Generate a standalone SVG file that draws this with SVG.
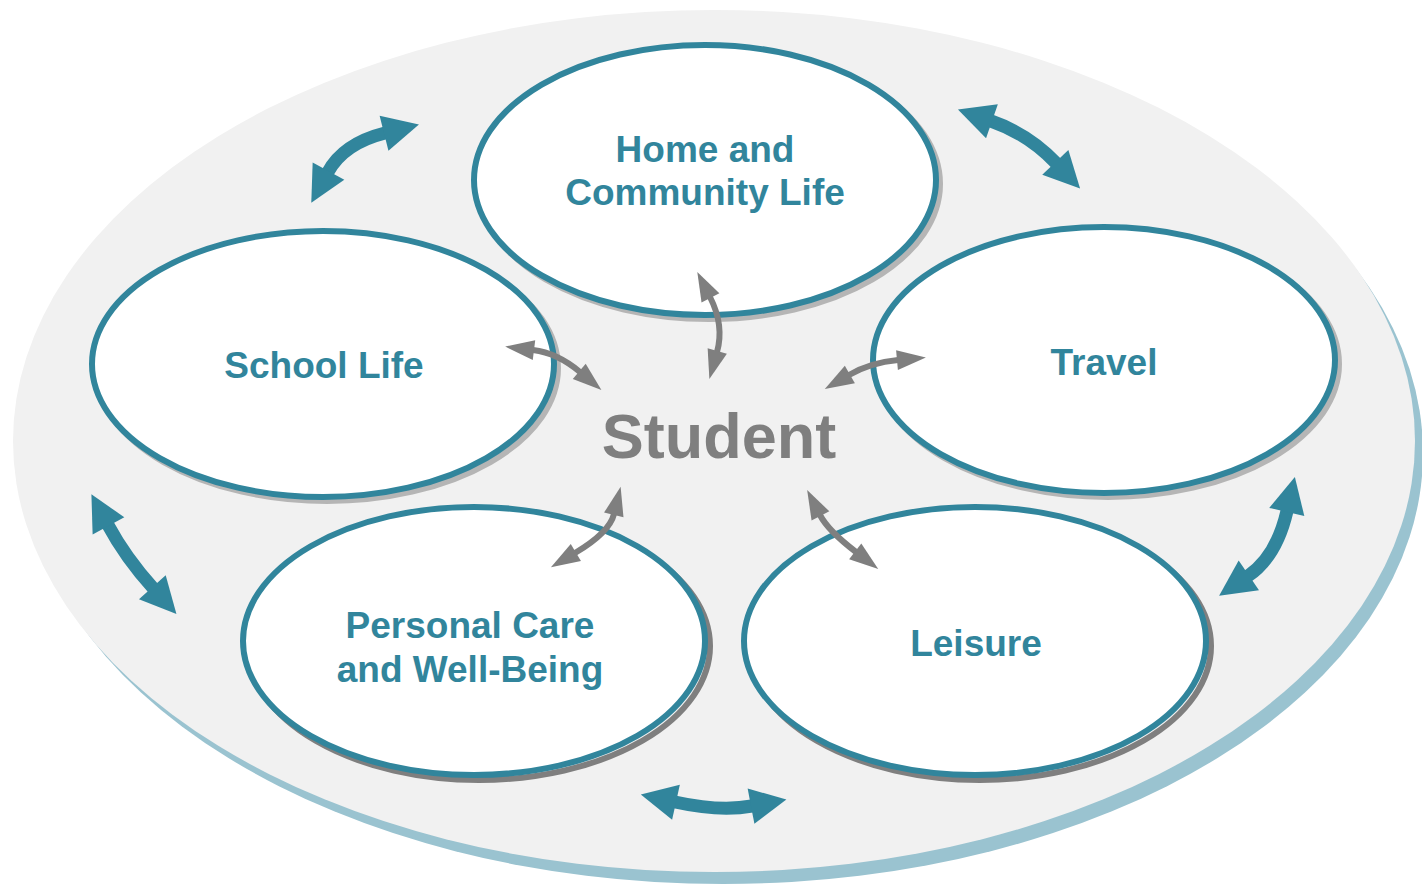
<svg xmlns="http://www.w3.org/2000/svg" width="1422" height="886" viewBox="0 0 1422 886">
  <style>
    .node { fill: #ffffff; stroke: #31859c; stroke-width: 6; }
    .shadow-light { fill: none; stroke: #b5b5b5; stroke-width: 6; }
    .shadow-dark { fill: none; stroke: #7f7f7f; stroke-width: 6; }
    .label { font-family: "Liberation Sans", Arial, sans-serif; font-weight: bold; font-size: 37px; fill: #31859c; text-anchor: middle; }
    .center { font-family: "Liberation Sans", Arial, sans-serif; font-weight: bold; font-size: 63px; fill: #7f7f7f; text-anchor: middle; }
    .big { fill: none; stroke: #31859c; stroke-width: 13; }
    .small { fill: none; stroke: #7f7f7f; stroke-width: 6; }
  </style>
  <defs>
    <marker id="headBig" markerUnits="userSpaceOnUse" viewBox="-2 -20 40 40" markerWidth="40" markerHeight="40" refX="0" refY="0" orient="auto-start-reverse" overflow="visible">
      <path d="M-1,-18 L35,0 L-1,18 Z" fill="#31859c"/>
    </marker>
    <marker id="headSmall" markerUnits="userSpaceOnUse" viewBox="-2 -12 32 24" markerWidth="32" markerHeight="24" refX="0" refY="0" orient="auto-start-reverse" overflow="visible">
      <path d="M-1,-10 L28,0 L-1,10 Z" fill="#7f7f7f"/>
    </marker>
  </defs>

  <!-- backdrop plate with its tinted drop shadow -->
  <ellipse cx="723" cy="453" rx="700" ry="431" fill="#9ac3d0"/>
  <ellipse cx="714" cy="441" rx="701" ry="431" fill="#f1f1f1"/>

  <!-- teal exchange arrows between neighbouring areas -->
  <g id="connectors-outer">
    <path class="big" d="M328,172 Q343.5,143.5 385,133" marker-start="url(#headBig)" marker-end="url(#headBig)"/>
    <path class="big" d="M991,121 Q1028.5,134 1056,163" marker-start="url(#headBig)" marker-end="url(#headBig)"/>
    <path class="big" d="M1287,511 Q1276.5,556.5 1248,576" marker-start="url(#headBig)" marker-end="url(#headBig)"/>
    <path class="big" d="M675,802 Q720.5,812 752,806" marker-start="url(#headBig)" marker-end="url(#headBig)"/>
    <path class="big" d="M108,525 Q125.5,557.5 153,588" marker-start="url(#headBig)" marker-end="url(#headBig)"/>
  </g>

  <g id="node-home">
    <ellipse class="shadow-light" cx="709" cy="184" rx="231" ry="135"/>
    <ellipse class="node" cx="705" cy="180" rx="231" ry="135"/>
    <text class="label" x="705" y="162">Home and</text>
    <text class="label" x="705" y="205">Community Life</text>
  </g>

  <g id="node-school">
    <ellipse class="shadow-light" cx="327" cy="368" rx="231" ry="133"/>
    <ellipse class="node" cx="323" cy="364" rx="231" ry="133"/>
    <text class="label" x="324" y="378">School Life</text>
  </g>

  <g id="node-travel">
    <ellipse class="shadow-light" cx="1108" cy="364" rx="231" ry="133"/>
    <ellipse class="node" cx="1104" cy="360" rx="231" ry="133"/>
    <text class="label" x="1104" y="375">Travel</text>
  </g>

  <g id="node-personal">
    <ellipse class="shadow-dark" cx="479" cy="646" rx="231" ry="134"/>
    <ellipse class="node" cx="474" cy="641" rx="231" ry="134"/>
    <text class="label" x="470" y="638">Personal Care</text>
    <text class="label" x="470" y="682">and Well-Being</text>
  </g>

  <g id="node-leisure">
    <ellipse class="shadow-dark" cx="980" cy="646" rx="231" ry="134"/>
    <ellipse class="node" cx="975" cy="641" rx="231" ry="134"/>
    <text class="label" x="976" y="656">Leisure</text>
  </g>

  <g id="node-student">
    <text class="center" x="719" y="458">Student</text>
  </g>

  <!-- gray links between the student and each area -->
  <g id="connectors-center">
    <path class="small" d="M533,350 Q557.5,353 580,372" marker-start="url(#headSmall)" marker-end="url(#headSmall)"/>
    <path class="small" d="M710,297 Q724.5,325.5 717,352" marker-start="url(#headSmall)" marker-end="url(#headSmall)"/>
    <path class="small" d="M898,360 Q870.5,362.5 849,375" marker-start="url(#headSmall)" marker-end="url(#headSmall)"/>
    <path class="small" d="M614,514 Q609.5,532.5 575,553" marker-start="url(#headSmall)" marker-end="url(#headSmall)"/>
    <path class="small" d="M820,515 Q828,530.5 856,552" marker-start="url(#headSmall)" marker-end="url(#headSmall)"/>
  </g>
</svg>
